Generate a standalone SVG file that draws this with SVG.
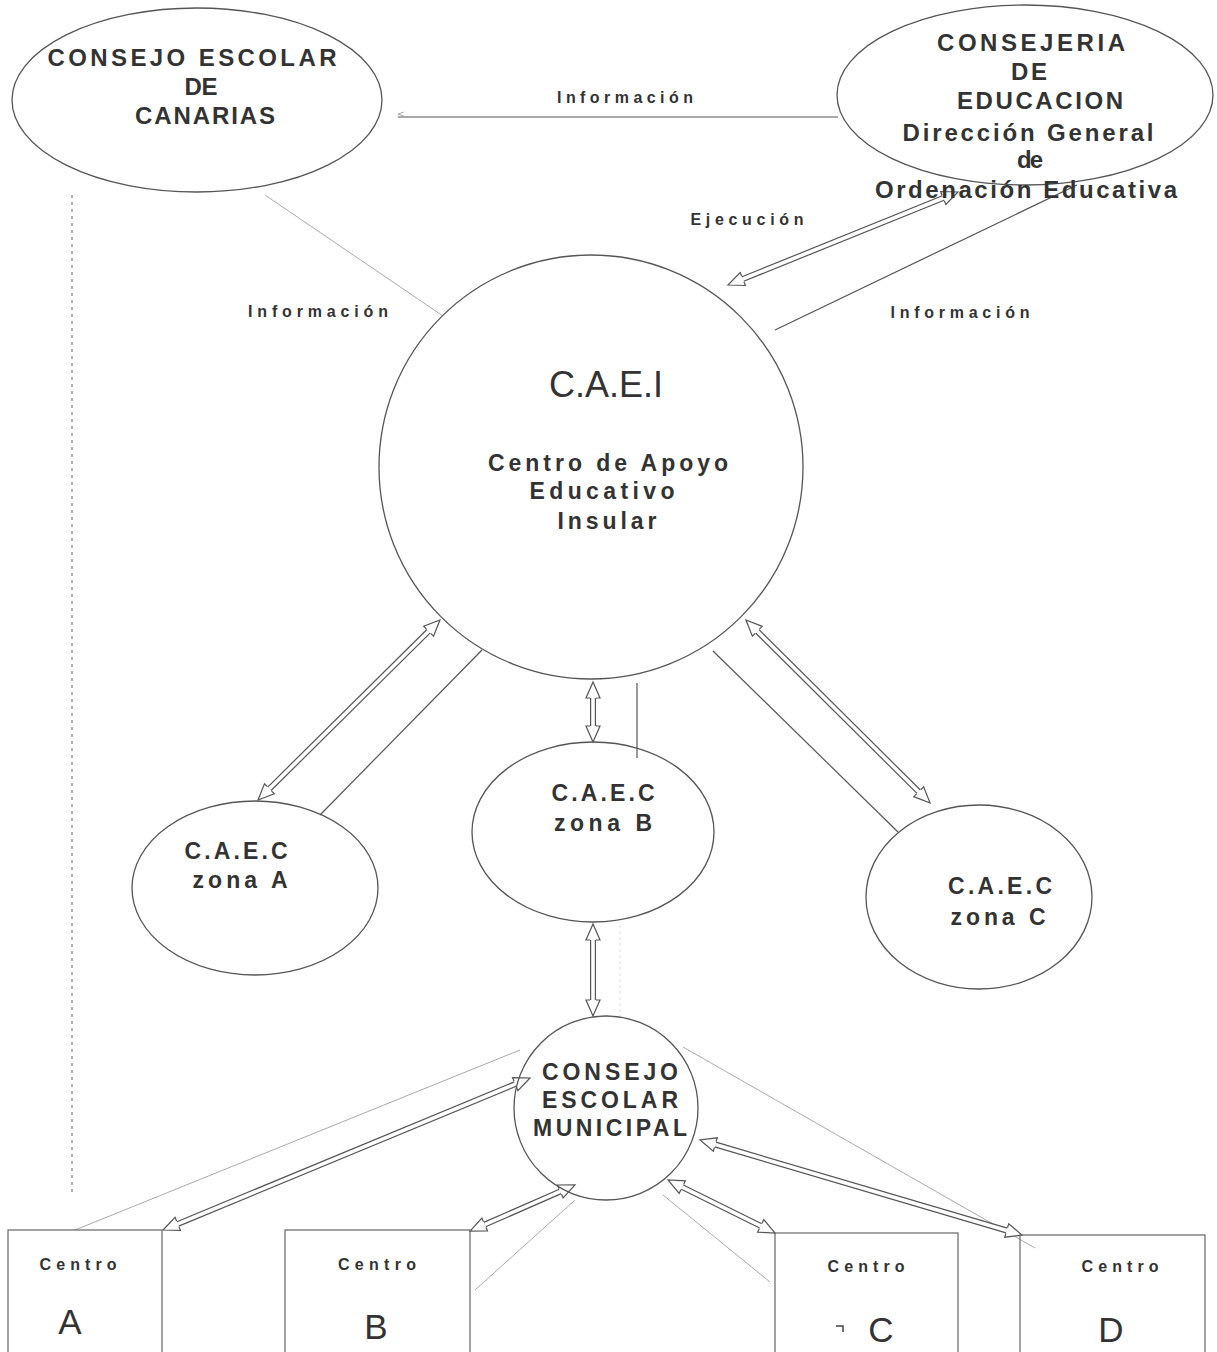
<svg xmlns="http://www.w3.org/2000/svg" width="1217" height="1352" viewBox="0 0 1217 1352">
<style>
.shape{fill:none;stroke:#555;stroke-width:1.3}
.box{fill:none;stroke:#666;stroke-width:1.2}
.t{font-family:"Liberation Sans",Arial,sans-serif;fill:#333;text-anchor:middle}
.big{font-size:24px;font-weight:bold}
.mid{font-size:23px;font-weight:bold}
.lbl{font-size:16px;font-weight:bold}
.cen{font-size:16px;font-weight:bold}
.let{font-size:35px}
.thin{stroke:#555;stroke-width:1.2;fill:none}
.faint{stroke:#aaa;stroke-width:1;fill:none}
.outer{stroke:#555;stroke-width:6;fill:none;marker-start:url(#h);marker-end:url(#h)}
.inner{stroke:#fff;stroke-width:3.6;fill:none}
</style>
<defs>
<marker id="h" viewBox="0 0 16 14" markerUnits="userSpaceOnUse" markerWidth="16" markerHeight="14" refX="0" refY="7" orient="auto-start-reverse" overflow="visible">
<path d="M0,0 L16,7 L0,14 Z" fill="#fff" stroke="none"/>
<path d="M0,4 L0,0 L16,7 L0,14 L0,10" fill="none" stroke="#555" stroke-width="1.2"/>
</marker>
</defs>
<rect width="1217" height="1352" fill="#fff"/>

<g id="connectors">
<line class="thin" x1="398" y1="117" x2="838" y2="117" stroke="#777"/>
<path class="faint" d="M404,112 L398,114 L404,116"/>
<line class="faint" x1="265" y1="195" x2="443" y2="316"/>
<line class="thin" x1="775" y1="330" x2="1077" y2="185"/>
<line class="thin" x1="482" y1="650" x2="320" y2="815"/>
<line class="thin" x1="637" y1="683" x2="637" y2="758"/>
<line class="thin" x1="713" y1="651" x2="898" y2="832"/>
<line x1="620" y1="925" x2="620" y2="1017" stroke="#ddd" stroke-width="1" stroke-dasharray="3 3"/>
<line class="faint" x1="520" y1="1050" x2="75" y2="1230"/>
<line class="faint" x1="575" y1="1200" x2="475" y2="1290"/>
<line class="faint" x1="663" y1="1195" x2="770" y2="1282"/>
<line class="faint" x1="683" y1="1047" x2="1035" y2="1248"/>
<line x1="72" y1="195" x2="72" y2="1195" stroke="#888" stroke-width="1.3" stroke-dasharray="3 4"/>

<line class="outer" x1="943.2" y1="198" x2="742.8" y2="279"/><line class="inner" x1="943.2" y1="198" x2="742.8" y2="279"/>
<line class="outer" x1="428.6" y1="631.2" x2="269.4" y2="788.8"/><line class="inner" x1="428.6" y1="631.2" x2="269.4" y2="788.8"/>
<line class="outer" x1="593" y1="698" x2="593" y2="726"/><line class="inner" x1="593" y1="698" x2="593" y2="726"/>
<line class="outer" x1="757.3" y1="631.3" x2="918.7" y2="791.7"/><line class="inner" x1="757.3" y1="631.3" x2="918.7" y2="791.7"/>
<line class="outer" x1="593" y1="940" x2="593" y2="1000"/><line class="inner" x1="593" y1="940" x2="593" y2="1000"/>
<line class="outer" x1="515.2" y1="1084.1" x2="177.8" y2="1223.9"/><line class="inner" x1="515.2" y1="1084.1" x2="177.8" y2="1223.9"/>
<line class="outer" x1="560.3" y1="1191.4" x2="484.7" y2="1224.6"/><line class="inner" x1="560.3" y1="1191.4" x2="484.7" y2="1224.6"/>
<line class="outer" x1="682.3" y1="1187.1" x2="760.7" y2="1225.9"/><line class="inner" x1="682.3" y1="1187.1" x2="760.7" y2="1225.9"/>
<line class="outer" x1="715.3" y1="1144.5" x2="1006.7" y2="1230.5"/><line class="inner" x1="715.3" y1="1144.5" x2="1006.7" y2="1230.5"/>

<text class="t lbl" x="625" y="103" textLength="136" lengthAdjust="spacing">Información</text>
<text class="t lbl" x="747" y="225" textLength="113" lengthAdjust="spacing">Ejecución</text>
<text class="t lbl" x="318" y="317" textLength="140" lengthAdjust="spacing">Información</text>
<text class="t lbl" x="960" y="318" textLength="139" lengthAdjust="spacing">Información</text>
</g>

<g id="consejo-canarias">
<ellipse class="shape" cx="197" cy="100" rx="185" ry="92"/>
<text class="t big" x="192" y="66" textLength="289" lengthAdjust="spacing">CONSEJO ESCOLAR</text>
<text class="t big" x="201" y="95" textLength="33" lengthAdjust="spacing">DE</text>
<text class="t big" x="205" y="124" textLength="140" lengthAdjust="spacing">CANARIAS</text>
</g>

<g id="consejeria">
<ellipse class="shape" cx="1025" cy="95" rx="188" ry="90"/>
<text class="t big" x="1031" y="51" textLength="188" lengthAdjust="spacing">CONSEJERIA</text>
<text class="t big" x="1029" y="80" textLength="36" lengthAdjust="spacing">DE</text>
<text class="t big" x="1040" y="109" textLength="166" lengthAdjust="spacing">EDUCACION</text>
<text class="t big" x="1028" y="141" textLength="251" lengthAdjust="spacing">Dirección General</text>
<text class="t big" x="1030" y="168" textLength="26" lengthAdjust="spacing">de</text>
<text class="t big" x="1026" y="198" textLength="302" lengthAdjust="spacing">Ordenación Educativa</text>
</g>

<g id="caei">
<circle class="shape" cx="591" cy="467" r="212"/>
<text class="t" x="606" y="397" font-size="36">C.A.E.I</text>
<text class="t mid" x="608" y="471" textLength="240" lengthAdjust="spacing">Centro de Apoyo</text>
<text class="t mid" x="602" y="499" textLength="145" lengthAdjust="spacing">Educativo</text>
<text class="t mid" x="607" y="529" textLength="99" lengthAdjust="spacing">Insular</text>
</g>

<g id="caec-a">
<ellipse class="shape" cx="255" cy="888" rx="123" ry="87"/>
<text class="t mid" x="236" y="859" textLength="103" lengthAdjust="spacing">C.A.E.C</text>
<text class="t mid" x="240" y="888" textLength="95" lengthAdjust="spacing">zona  A</text>
</g>

<g id="caec-b">
<ellipse class="shape" cx="593" cy="832" rx="121" ry="90"/>
<text class="t mid" x="603" y="801" textLength="103" lengthAdjust="spacing">C.A.E.C</text>
<text class="t mid" x="603" y="831" textLength="98" lengthAdjust="spacing">zona  B</text>
</g>

<g id="caec-c">
<ellipse class="shape" cx="979" cy="897" rx="113" ry="92"/>
<text class="t mid" x="1000" y="894" textLength="104" lengthAdjust="spacing">C.A.E.C</text>
<text class="t mid" x="998" y="925" textLength="95" lengthAdjust="spacing">zona  C</text>
</g>

<g id="consejo-municipal">
<circle class="shape" cx="606" cy="1108" r="92"/>
<text class="t mid" x="610" y="1080" textLength="136" lengthAdjust="spacing">CONSEJO</text>
<text class="t mid" x="610" y="1108" textLength="136" lengthAdjust="spacing">ESCOLAR</text>
<text class="t mid" x="610" y="1136" textLength="154" lengthAdjust="spacing">MUNICIPAL</text>
</g>

<g id="centro-a">
<rect class="box" x="8" y="1230" width="154" height="140"/>
<text class="t cen" x="78" y="1270" textLength="77" lengthAdjust="spacing">Centro</text>
<text class="t let" x="70" y="1334">A</text>
</g>
<g id="centro-b">
<rect class="box" x="285" y="1230" width="185" height="140"/>
<text class="t cen" x="377" y="1270" textLength="78" lengthAdjust="spacing">Centro</text>
<text class="t let" x="376" y="1339">B</text>
</g>
<g id="centro-c">
<rect class="box" x="775" y="1233" width="183" height="140"/>
<text class="t cen" x="866" y="1272" textLength="77" lengthAdjust="spacing">Centro</text>
<text class="t let" x="881" y="1342">C</text>
<path d="M836,1326 L843,1326 L843,1332" fill="none" stroke="#444" stroke-width="1.5"/>
</g>
<g id="centro-d">
<rect class="box" x="1020" y="1235" width="185" height="140"/>
<text class="t cen" x="1120" y="1272" textLength="77" lengthAdjust="spacing">Centro</text>
<text class="t let" x="1111" y="1342">D</text>
</g>
</svg>
